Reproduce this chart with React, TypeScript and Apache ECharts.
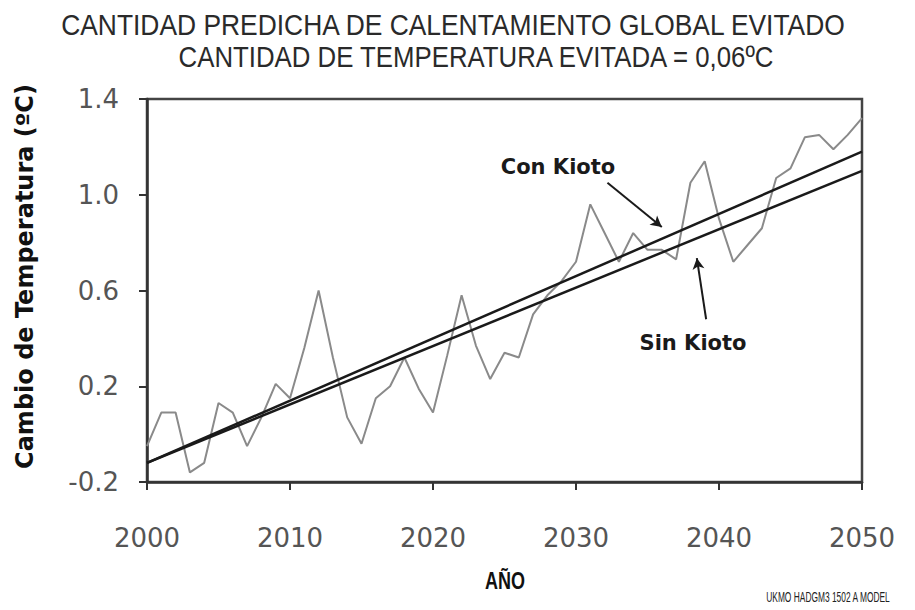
import React, { useEffect, useRef } from "react";
import * as echarts from "echarts";

const years = [
  2000, 2001, 2002, 2003, 2004, 2005, 2006, 2007, 2008, 2009,
  2010, 2011, 2012, 2013, 2014, 2015, 2016, 2017, 2018, 2019,
  2020, 2021, 2022, 2023, 2024, 2025, 2026, 2027, 2028, 2029,
  2030, 2031, 2032, 2033, 2034, 2035, 2036, 2037, 2038, 2039,
  2040, 2041, 2042, 2043, 2044, 2045, 2046, 2047, 2048, 2049, 2050,
];
const cambioTemp = [
  -0.05, 0.09, 0.09, -0.16, -0.12, 0.13, 0.09, -0.05, 0.07, 0.21,
  0.15, 0.36, 0.6, 0.32, 0.07, -0.04, 0.15, 0.2, 0.32, 0.19,
  0.09, 0.33, 0.58, 0.37, 0.23, 0.34, 0.32, 0.5, 0.58, 0.64,
  0.72, 0.96, 0.84, 0.72, 0.84, 0.77, 0.77, 0.73, 1.05, 1.14,
  0.9, 0.72, 0.79, 0.86, 1.07, 1.11, 1.24, 1.25, 1.19, 1.25, 1.32,
];
const trendYears = [2000, 2050];
const conKioto = [-0.12, 1.18];
const sinKioto = [-0.12, 1.1];
const conArrow = [[2032.2, 1.05], [2036.0, 0.865]];
const sinArrow = [[2039.1, 0.48], [2038.45, 0.735]];
const titleLines = [
  "CANTIDAD PREDICHA DE CALENTAMIENTO GLOBAL EVITADO",
  "CANTIDAD DE TEMPERATURA EVITADA = 0,06ºC",
];
const xName = "AÑO";
const yName = "Cambio de Temperatura (ºC)";
const labelCon = "Con Kioto";
const labelSin = "Sin Kioto";
const footnote = "UKMO HADGM3 1502 A MODEL";

export default function App() {
  const ref = useRef<HTMLDivElement>(null);
  useEffect(() => {
    const chart = echarts.init(ref.current!, null, { renderer: "svg" });
    const axisColor = "#333";
    chart.setOption({
      animation: false,
      backgroundColor: "#fff",
      grid: {
        left: 147,
        right: 53,
        top: 99,
        bottom: 128,
        show: true,
        borderColor: "#444",
        borderWidth: 2.5,
      },
      xAxis: {
        type: "value",
        min: 2000,
        max: 2050,
        interval: 10,
        axisLine: { onZero: false, lineStyle: { color: axisColor, width: 2.5 } },
        axisTick: { inside: false, length: 8, lineStyle: { color: axisColor, width: 2 } },
        axisLabel: {
          margin: 43,
          fontFamily: "DejaVu Sans",
          fontSize: 26,
          color: "#555",
          formatter: (v: number) => String(v),
        },
        splitLine: { show: false },
      },
      yAxis: {
        type: "value",
        min: -0.2,
        max: 1.4,
        interval: 0.4,
        name: yName,
        nameLocation: "middle",
        nameGap: 110,
        nameTextStyle: {
          fontFamily: "DejaVu Sans",
          fontWeight: "bold",
          fontSize: 24,
          color: "#111",
          padding: [0, 0, 0, 28],
        },
        axisLine: { onZero: false, lineStyle: { color: axisColor, width: 2.5 } },
        axisTick: { inside: false, length: 8, lineStyle: { color: axisColor, width: 2 } },
        axisLabel: {
          margin: 28,
          fontFamily: "DejaVu Sans",
          fontSize: 26,
          color: "#555",
          formatter: (v: number) => v.toFixed(1),
        },
        splitLine: { show: false },
      },
      series: [
        {
          type: "line",
          name: "Cambio",
          data: years.map((y, i) => [y, cambioTemp[i]]),
          symbol: "none",
          lineStyle: { color: "#8a8a8a", width: 2 },
          z: 2,
        },
        {
          type: "line",
          name: labelSin,
          data: trendYears.map((y, i) => [y, sinKioto[i]]),
          symbol: "none",
          lineStyle: { color: "#1a1a1a", width: 2.5 },
          z: 3,
        },
        {
          type: "line",
          name: labelCon,
          data: trendYears.map((y, i) => [y, conKioto[i]]),
          symbol: "none",
          lineStyle: { color: "#1a1a1a", width: 2.5 },
          z: 3,
          markLine: {
            silent: true,
            symbol: ["none", "arrow"],
            symbolSize: [9, 11],
            label: { show: false },
            lineStyle: { color: "#1a1a1a", width: 2, type: "solid" },
            data: [
              [{ coord: conArrow[0] }, { coord: conArrow[1] }],
              [{ coord: sinArrow[0] }, { coord: sinArrow[1] }],
            ],
          },
        },
      ],
      graphic: [
        {
          type: "text",
          x: 453,
          y: 24,
          scaleX: 0.88,
          style: {
            text: titleLines[0],
            fontFamily: "Liberation Sans",
            fontSize: 30,
            fill: "#2a2a2a",
            align: "center",
            verticalAlign: "middle",
          },
        },
        {
          type: "text",
          x: 476,
          y: 57,
          scaleX: 0.86,
          style: {
            text: titleLines[1],
            fontFamily: "Liberation Sans",
            fontSize: 30,
            fill: "#2a2a2a",
            align: "center",
            verticalAlign: "middle",
          },
        },
        {
          type: "text",
          x: 505,
          y: 581,
          scaleX: 0.75,
          style: {
            text: xName,
            fontFamily: "Liberation Sans",
            fontWeight: "bold",
            fontSize: 24,
            fill: "#111",
            align: "center",
            verticalAlign: "middle",
          },
        },
        {
          type: "text",
          x: 558,
          y: 167,
          style: {
            text: labelCon,
            fontFamily: "DejaVu Sans",
            fontWeight: "bold",
            fontSize: 21,
            fill: "#1a1a1a",
            align: "center",
            verticalAlign: "middle",
          },
        },
        {
          type: "text",
          x: 693,
          y: 343,
          style: {
            text: labelSin,
            fontFamily: "DejaVu Sans",
            fontWeight: "bold",
            fontSize: 21,
            fill: "#1a1a1a",
            align: "center",
            verticalAlign: "middle",
          },
        },
        {
          type: "text",
          x: 828,
          y: 597,
          scaleX: 0.56,
          style: {
            text: footnote,
            fontFamily: "Liberation Sans",
            fontSize: 15,
            fill: "#222",
            align: "center",
            verticalAlign: "middle",
          },
        },
      ],
    });
    return () => chart.dispose();
  }, []);
  return (
    <div
      ref={ref}
      style={{ position: "fixed", left: 0, top: 0, width: 915, height: 610 }}
    />
  );
}
